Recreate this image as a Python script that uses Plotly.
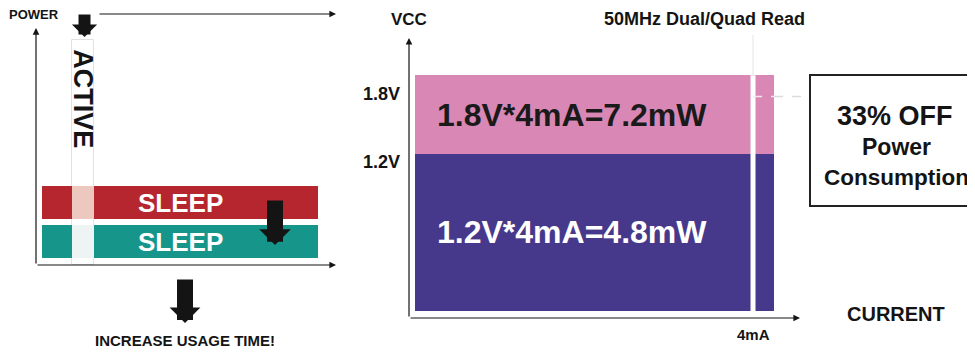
import plotly.graph_objects as go

# The page body adds an 8px margin; the figure is sized/placed to compensate.
OFF = 8
FW, FH = 975 - OFF, 352 - OFF

# ---------------- data: left panel (schematic power vs. time) ----------------
sleep_start = [2.0, 19.3]          # time units, sleep periods
sleep_end = [12.0, 94.0]
active_start, active_end = 12.0, 19.3
active_power = 89.6
row_names = ["Previous sleep power", "Reduced sleep power"]
row_base = [18.3, 2.8]
row_top = [31.5, 15.9]
row_label = ["SLEEP", "SLEEP"]

# ---------------- data: right panel (VCC vs. current) ----------------
vcc_levels = [1.2, 1.8]             # V
vcc_tick_text = ["1.2V", "1.8V"]
read_current = 4.0                  # mA
read_current_label = "4mA"
bar_current_extent = 4.25           # mA, drawn width of the blocks
guide_level = 1.637                 # V, dashed guide towards the call-out box
guide_end = 4.663                   # mA
power_text = ["1.2V*4mA=4.8mW", "1.8V*4mA=7.2mW"]

# ---------------- styles ----------------
RED, TEAL = "#b5262e", "#16968b"
RED_GAP, TEAL_GAP = "#ecc8be", "#eef4f4"
PURPLE, PINK = "#46398b", "#d988b5"
INK = "#141414"
BOLD = "Liberation Sans, Arial, sans-serif"


def px(v):
    return (v - OFF) / FW


def py(v):
    return 1 - (v - OFF) / FH


fig = go.Figure()

# ---- left panel traces ----
fig.add_trace(go.Bar(
    x=[(active_start + active_end) / 2], width=[active_end - active_start],
    base=[0], y=[active_power], marker=dict(color="white", line=dict(color="#e2e2e2", width=1)),
    xaxis="x", yaxis="y", hoverinfo="skip", showlegend=False))
for i, (b, t) in enumerate(zip(row_base, row_top)):
    col = [RED, TEAL][i]
    gap = [RED_GAP, TEAL_GAP][i]
    fig.add_trace(go.Bar(
        x=[(active_start + active_end) / 2], width=[active_end - active_start],
        base=[b], y=[t - b], marker=dict(color=gap, line=dict(width=0)),
        xaxis="x", yaxis="y", hoverinfo="skip", showlegend=False))
    fig.add_trace(go.Bar(
        x=[(s + e) / 2 for s, e in zip(sleep_start, sleep_end)],
        width=[e - s for s, e in zip(sleep_start, sleep_end)],
        base=[b] * len(sleep_start), y=[t - b] * len(sleep_start),
        marker=dict(color=col, line=dict(width=0)), name=row_names[i],
        xaxis="x", yaxis="y", hoverinfo="skip", showlegend=False))

# ---- right panel traces ----
fig.add_trace(go.Bar(
    x=[bar_current_extent / 2], width=[bar_current_extent], base=[0], y=[vcc_levels[0]],
    marker=dict(color=PURPLE, line=dict(width=0)), xaxis="x2", yaxis="y2",
    hoverinfo="skip", showlegend=False))
fig.add_trace(go.Bar(
    x=[bar_current_extent / 2], width=[bar_current_extent], base=[vcc_levels[0]],
    y=[vcc_levels[1] - vcc_levels[0]], marker=dict(color=PINK, line=dict(width=0)),
    xaxis="x2", yaxis="y2", hoverinfo="skip", showlegend=False))
# read-current marker line
fig.add_trace(go.Scatter(
    x=[read_current, read_current], y=[0, vcc_levels[1]], mode="lines",
    line=dict(color="white", width=5), xaxis="x2", yaxis="y2",
    hoverinfo="skip", showlegend=False))
fig.add_trace(go.Scatter(
    x=[read_current, read_current], y=[vcc_levels[1], 2.107], mode="lines",
    line=dict(color="#e4e4e4", width=1), xaxis="x2", yaxis="y2",
    hoverinfo="skip", showlegend=False))
# dashed guide: white over the block, light grey outside
fig.add_trace(go.Scatter(
    x=[read_current, bar_current_extent], y=[guide_level, guide_level], mode="lines",
    line=dict(color="#f6e6ef", width=1.5, dash="dash"), xaxis="x2", yaxis="y2",
    hoverinfo="skip", showlegend=False))
fig.add_trace(go.Scatter(
    x=[bar_current_extent, guide_end], y=[guide_level, guide_level], mode="lines",
    line=dict(color="#dcdcdc", width=1.5, dash="dash"), xaxis="x2", yaxis="y2",
    hoverinfo="skip", showlegend=False))

ann = []


def arrow(xref, yref, x0, y0, x1, y1, width, size, head=2, color=INK):
    ann.append(dict(x=x1, y=y1, ax=x0, ay=y0, xref=xref, yref=yref, axref=xref, ayref=yref,
                    text="", showarrow=True, arrowhead=head, arrowwidth=width,
                    arrowsize=size, arrowcolor=color, standoff=0, startstandoff=0))


def label(text, x, y, size, xref="paper", yref="paper", color=INK, family=BOLD,
          angle=0, xanchor="center", yanchor="middle", yshift=0):
    ann.append(dict(text=text, x=x, y=y, xref=xref, yref=yref, showarrow=False,
                    font=dict(family=family, size=size, color=color, weight="bold"),
                    textangle=angle, xanchor=xanchor, yanchor=yanchor, yshift=yshift))


# left axes arrows
arrow("x", "y", 0, 0, 0, 94.4, 1.2, 1.1)
arrow("x", "y", 0, 0, 100, 0, 1.2, 1.1)
arrow("x", "y", 20.67, 100, 100, 100, 1.2, 1.1)
# block arrows
arrow("x", "y", 16.17, 100.4, 16.17, 90.84, 12, 0.35, head=1)
arrow("x", "y", 79.67, 26.3, 79.67, 7.97, 16, 0.33, head=1)
arrow("x", "y", 49.67, -5.18, 49.67, -23.1, 16, 0.32, head=1)

# right axes arrows
arrow("x2", "y2", -0.071, -0.0534, 4.556, -0.0534, 1.2, 1.1)
arrow("x2", "y2", -0.071, -0.0534, -0.071, 2.084, 1.2, 1.1)

# left texts
label("POWER", px(33.5), py(14.5), 13)
label("ACTIVE", (active_start + active_end) / 2, 66.1, 27, xref="x", yref="y", angle=90)
for i in range(2):
    label(row_label[i], (sleep_start[0] + sleep_end[-1]) / 2, (row_base[i] + row_top[i]) / 2,
          26, xref="x", yref="y", color="white")
label("INCREASE USAGE TIME!", 49.67, -29.9, 15, xref="x", yref="y")

# right texts
label("VCC", px(408.5), py(19), 17)
label("50MHz Dual/Quad Read", px(704), py(19), 18)
label(vcc_tick_text[1], -0.402, vcc_levels[1], 18, xref="x2", yref="y2", yshift=-18.8)
label(vcc_tick_text[0], -0.402, vcc_levels[0], 18, xref="x2", yref="y2", yshift=-8)
label(power_text[1], 1.858, (vcc_levels[0] + vcc_levels[1]) / 2, 32, xref="x2", yref="y2",
      color="#1a1a1a")
label(power_text[0], 1.858, vcc_levels[0] / 2, 32, xref="x2", yref="y2", color="white")
label(read_current_label, read_current, -0.0534, 15, xref="x2", yref="y2",
      yanchor="top", yshift=-6)
label("CURRENT", px(896), py(314), 20)
label("33% OFF", px(895), py(115.5), 27)
label("Power", px(896), py(147.5), 23)
label("Consumption", px(896), py(177), 22.5)

shapes = [dict(type="rect", xref="paper", yref="paper", x0=px(810), x1=1.03,
               y0=py(206), y1=py(75), line=dict(color="#222222", width=2),
               fillcolor="rgba(0,0,0,0)")]

axis_common = dict(showgrid=False, zeroline=False, showticklabels=False, showline=False,
                   ticks="", fixedrange=True)

fig.update_layout(
    width=FW, height=FH, margin=dict(l=0, r=0, t=0, b=0),
    paper_bgcolor="white", plot_bgcolor="rgba(0,0,0,0)",
    barmode="overlay", bargap=0, showlegend=False,
    xaxis=dict(domain=[0, px(351)], range=[-28 / 3, 105], anchor="y", **axis_common),
    yaxis=dict(domain=[0, 1], range=[-34.66, 102.39], anchor="x", **axis_common),
    xaxis2=dict(domain=[px(360), 1], range=[-0.651, 6.627], anchor="y2", **axis_common),
    yaxis2=dict(domain=[0, 1], range=[-0.313, 2.313], anchor="x2", **axis_common),
    annotations=ann, shapes=shapes,
)

fig.write_html("out.html")
